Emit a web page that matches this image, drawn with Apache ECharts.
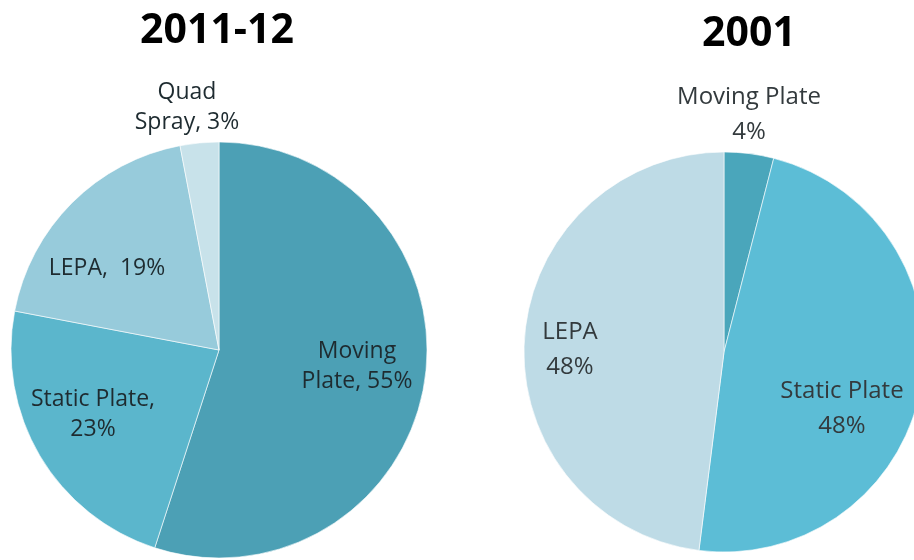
<!DOCTYPE html>
<html>
<head>
<meta charset="utf-8">
<script src="https://cdn.jsdelivr.net/npm/echarts@6/dist/echarts.min.js"></script>
<style>
  html, body { margin: 0; padding: 0; background: #fff; }
  #chart { width: 914px; height: 560px; }
</style>
</head>
<body>
<div id="chart"></div>
<script>
// 2011-12 survey
const cats2011 = ['Moving Plate', 'Static Plate', 'LEPA', 'Quad Spray'];
const vals2011 = [55, 23, 19, 3];
const labels2011 = ['Moving\nPlate, {v}%', 'Static Plate,\n{v}%', 'LEPA,  {v}%', 'Quad\nSpray, {v}%'];

// 2001 survey
const cats2001 = ['Moving Plate', 'Static Plate', 'LEPA'];
const vals2001 = [4, 48, 48];
const labels2001 = ['Moving Plate\n{v}%', 'Static Plate\n{v}%', 'LEPA\n{v}%'];

const colors2011 = ['#4ca0b5', '#5bb6cc', '#97cbdb', '#c8e2ea'];
const colors2001 = ['#4aa6bb', '#5cbdd6', '#bedbe6'];

// where each label sits (pixel centres)
const labelPos2011 = [[357, 366], [93, 414], [107, 268], [187, 107]];
const labelPos2001 = [[749, 115], [842, 409], [570, 350]];

const chart = echarts.init(document.getElementById('chart'));

function buildData(cats, vals, colors) {
  return cats.map((c, i) => ({ name: c, value: vals[i], itemStyle: { color: colors[i] } }));
}

function fmt(templates) {
  return p => templates[p.dataIndex].replace('{v}', p.value);
}

function layout(pos) {
  return p => ({ x: pos[p.dataIndex][0], y: pos[p.dataIndex][1], align: 'center', verticalAlign: 'middle' });
}

const option = {
  animation: false,
  backgroundColor: '#fff',
  title: [
    {
      text: '2011-12', left: 212, top: 6, textAlign: 'center',
      textStyle: { fontFamily: 'Open Sans', fontWeight: 'bold', fontSize: 41, color: '#000' }
    },
    {
      text: '2001', left: 744, top: 9, textAlign: 'center',
      textStyle: { fontFamily: 'Open Sans', fontWeight: 'bold', fontSize: 41, color: '#000' }
    }
  ],
  series: [
    {
      type: 'pie',
      center: [219, 350],
      radius: 208,
      startAngle: 90,
      clockwise: true,
      data: buildData(cats2011, vals2011, colors2011),
      itemStyle: { borderColor: 'rgba(255,255,255,0.6)', borderWidth: 1 },
      label: {
        show: true, position: 'inside', formatter: fmt(labels2011),
        fontFamily: 'Open Sans', fontSize: 23, lineHeight: 30, color: '#1e2b30'
      },
      labelLine: { show: false },
      labelLayout: layout(labelPos2011)
    },
    {
      type: 'pie',
      center: [724, 352],
      radius: 200,
      startAngle: 90,
      clockwise: true,
      data: buildData(cats2001, vals2001, colors2001),
      itemStyle: { borderColor: 'rgba(255,255,255,0.6)', borderWidth: 1 },
      label: {
        show: true, position: 'inside', formatter: fmt(labels2001),
        fontFamily: 'Open Sans', fontSize: 24, lineHeight: 35, color: '#333a3d'
      },
      labelLine: { show: false },
      labelLayout: layout(labelPos2001)
    }
  ]
};

chart.setOption(option);
</script>
</body>
</html>
